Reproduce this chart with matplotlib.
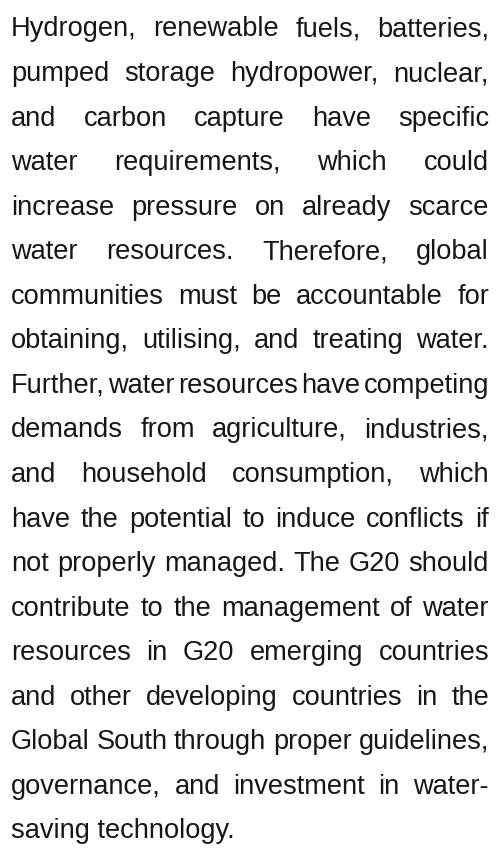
import matplotlib
matplotlib.use("Agg")
import matplotlib.pyplot as plt

# paragraph lines as set in the reference (justified, last line ragged)
lines = [
    "Hydrogen, renewable fuels, batteries,",
    "pumped storage hydropower, nuclear,",
    "and carbon capture have specific",
    "water requirements, which could",
    "increase pressure on already scarce",
    "water resources. Therefore, global",
    "communities must be accountable for",
    "obtaining, utilising, and treating water.",
    "Further, water resources have competing",
    "demands from agriculture, industries,",
    "and household consumption, which",
    "have the potential to induce conflicts if",
    "not properly managed. The G20 should",
    "contribute to the management of water",
    "resources in G20 emerging countries",
    "and other developing countries in the",
    "Global South through proper guidelines,",
    "governance, and investment in water-",
    "saving technology.",
]

W, H = 497, 855
LEFT, RIGHT = 11, 489
TOP_BASE, PITCH = 36.5, 44.55
FONT = dict(family="Liberation Sans", size=19.6, color="#161616")

fig = plt.figure(figsize=(W / 100, H / 100), dpi=100)
ax = fig.add_axes([0, 0, 1, 1])
ax.set_xlim(0, W)
ax.set_ylim(H, 0)
ax.axis("off")
fig.canvas.draw()
renderer = fig.canvas.get_renderer()


def word_width(word):
    t = ax.text(0, 0, word, **FONT)
    w = t.get_window_extent(renderer).width
    t.remove()
    return w


for i, line in enumerate(lines):
    y = TOP_BASE + i * PITCH
    words = line.split()
    if i == len(lines) - 1 or len(words) == 1:
        ax.text(LEFT, y, line, va="baseline", ha="left", **FONT)
        continue
    # justify: spread leftover width evenly between words
    widths = [word_width(w) for w in words]
    gap = (RIGHT - LEFT - sum(widths)) / (len(words) - 1)
    x = LEFT
    for w, wd in zip(words, widths):
        ax.text(x, y, w, va="baseline", ha="left", **FONT)
        x += wd + gap

fig.savefig("out.png", dpi=100)
